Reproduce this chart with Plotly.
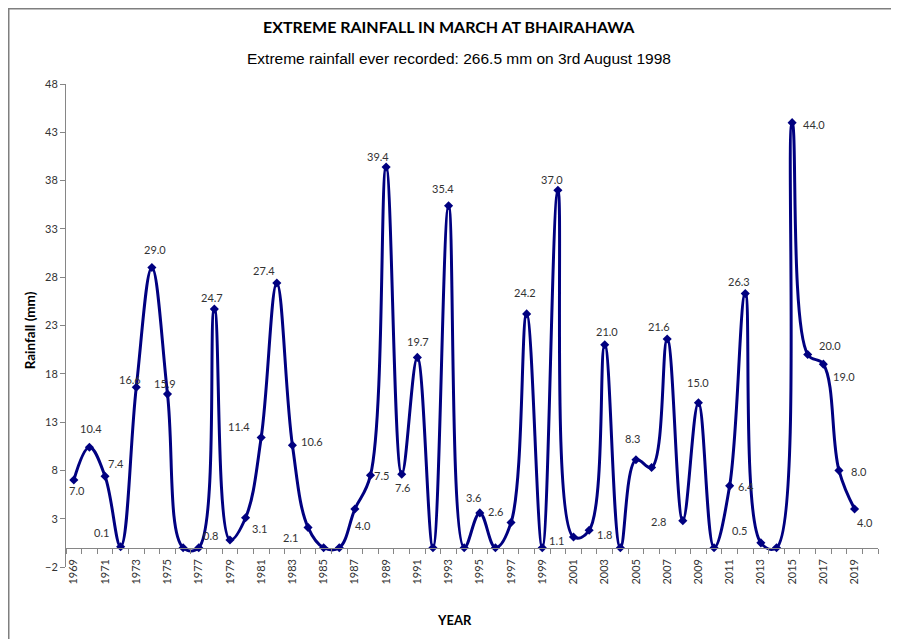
import plotly.graph_objects as go

# March extreme rainfall at Bhairahawa (mm), one value per year
years = list(range(1969, 2020))
rainfall = [7.0, 10.4, 7.4, 0.1, 16.6, 29.0, 15.9, 0.0, 0.0, 24.7,
            0.8, 3.1, 11.4, 27.4, 10.6, 2.1, 0.0, 0.0, 4.0, 7.5,
            39.4, 7.6, 19.7, 0.0, 35.4, 0.0, 3.6, 0.0, 2.6, 24.2,
            0.0, 37.0, 1.1, 1.8, 21.0, 0.0, 9.1, 8.3, 21.6, 2.8,
            15.0, 0.0, 6.4, 26.3, 0.5, 0.0, 44.0, 20.0, 19.0, 8.0,
            4.0]
tick_years = list(range(1969, 2020, 2))

# label offsets in px from each point (None = no label shown)
label_dx = [3, 2, 11, -19, -6, 3, -3, None, None, -2,
            -19, 14, -22, -13, 20, -18, None, None, 8, 11,
            -8, 1, 1, None, -6, None, -6, None, -16, -2,
            None, -6, -17, 15, 2, None, None, -19, -8, -24,
            0, None, 16, -6, -21, None, 22, 22, 21, 20,
            10]
label_dy = [10, -19, -13, -14, -8, -18, -11, None, None, -12,
            -4, 11, -11, -13, -4, 10, None, None, 16, 0,
            -11, 13, -16, None, -17, None, -15, None, -11, -21,
            None, -11, 3, 4, -13, None, None, -29, -13, 1,
            -20, None, 1, -12, -12, None, 2, -9, 12, 1,
            13]

navy = "#000080"
axis_grey = "#868686"

fig = go.Figure()
fig.add_trace(go.Scatter(
    x=years, y=rainfall, mode="lines+markers",
    line=dict(color=navy, width=3, shape="spline", smoothing=1.1),
    marker=dict(symbol="diamond", size=7, color=navy),
    showlegend=False, hoverinfo="x+y"
))

for yr, val, dx, dy in zip(years, rainfall, label_dx, label_dy):
    if dx is None:
        continue
    fig.add_annotation(x=yr, y=val, text=f"{val:.1f}", showarrow=False,
                       xanchor="center", yanchor="middle", xshift=dx, yshift=-dy,
                       font=dict(family="Lato", size=11, color="#333333"))

# titles
fig.add_annotation(text="EXTREME RAINFALL IN MARCH AT BHAIRAHAWA", xref="paper", yref="paper",
                   x=0.472, y=1.12, xanchor="center", yanchor="middle", showarrow=False,
                   font=dict(family="Lato", size=16, color="#000000", weight="bold"))
fig.add_annotation(text="Extreme rainfall ever recorded: 266.5 mm on 3rd August 1998", xref="paper",
                   yref="paper", x=0.4843, y=1.0518, xanchor="center", yanchor="middle", showarrow=False,
                   font=dict(family="Liberation Sans", size=15.5, color="#000000"))
fig.add_annotation(text="Rainfall (mm)", xref="paper", yref="paper", x=-0.0443, y=0.49,
                   xanchor="center", yanchor="middle", textangle=-90, showarrow=False,
                   font=dict(family="Lato", size=13.5, color="#000000", weight="bold"))
fig.add_annotation(text="YEAR", xref="paper", yref="paper", x=0.4788, y=-0.1097,
                   xanchor="center", yanchor="middle", showarrow=False,
                   font=dict(family="Lato", size=13, color="#000000", weight="bold"))

# outer chart border along the figure's top-left edge (cut off at right and bottom)
fig.add_shape(type="rect", xref="paper", yref="paper", x0=-0.0705, x1=1.2, y0=-0.3, y1=1.1558,
              line=dict(color="#7f7f7f", width=1.5), layer="below")

# page body adds an 8px offset, so margins are 8px smaller than the target positions
fig.update_layout(
    width=899, height=639,
    margin=dict(l=58, r=28.5, t=76, b=80),
    paper_bgcolor="white", plot_bgcolor="white",
    font=dict(family="Lato", size=11, color="#333333"),
    xaxis=dict(
        range=[1968.5, 2020.5], tickmode="array", tickvals=tick_years,
        tickangle=-90, ticks="outside", ticklen=6, tickcolor="rgba(0,0,0,0)",
        showline=True, linecolor=axis_grey, linewidth=1, showgrid=False, zeroline=False,
        anchor="free", position=0.04,
        minor=dict(tick0=1968.5, dtick=1, ticks="outside", ticklen=5, tickcolor=axis_grey, showgrid=False),
        tickfont=dict(family="Lato", size=11, color="#333333")
    ),
    yaxis=dict(
        range=[-2, 48], tick0=-2, dtick=5, ticks="outside", ticklen=5, tickcolor=axis_grey,
        showline=True, linecolor=axis_grey, linewidth=1, showgrid=False, zeroline=False,
        tickfont=dict(family="Lato", size=11, color="#333333")
    )
)

fig.write_html("out.html")
